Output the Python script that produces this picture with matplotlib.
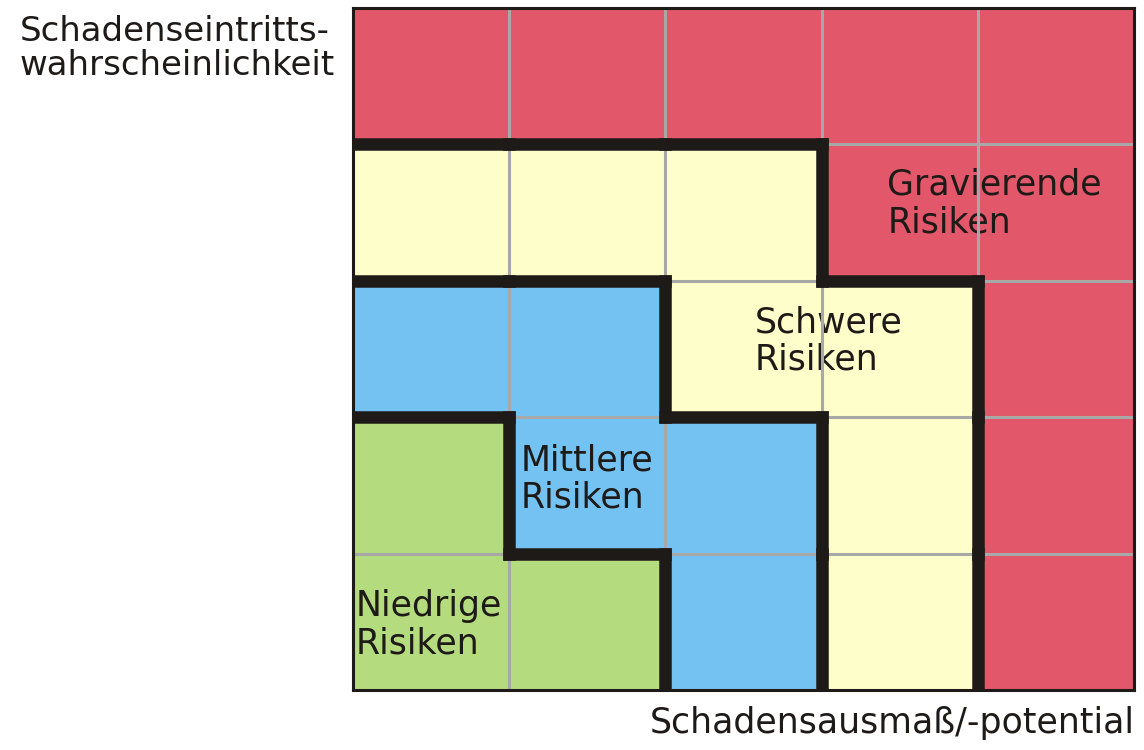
import numpy as np
import matplotlib.pyplot as plt
from matplotlib.colors import ListedColormap

plt.rcParams['font.family'] = ['DejaVu Sans']

# zone index for each cell, row 0 = bottom, col 0 = left
zones = np.array([
    [0, 0, 1, 2, 3],
    [0, 1, 1, 2, 3],
    [1, 1, 2, 2, 3],
    [2, 2, 2, 3, 3],
    [3, 3, 3, 3, 3],
])
zone_colors = ['#b5db7f', '#73c2f2', '#fefecb', '#e25769']
zone_labels = ['Niedrige\nRisiken', 'Mittlere\nRisiken', 'Schwere\nRisiken', 'Gravierende\nRisiken']
label_pos = [(0.02, 0.74), (1.07, 1.81), (2.57, 2.82), (3.42, 3.83)]  # top-left of each label
y_title = 'Schadenseintritts-\nwahrscheinlichkeit'
x_title = 'Schadensausmaß/-potential'

fig = plt.figure(figsize=(11.44, 7.5), dpi=100)
ax = fig.add_axes([353/1144, 60/750, 781/1144, 682/750])

n = zones.shape[0]
ax.pcolormesh(np.arange(n + 1), np.arange(n + 1), zones,
              cmap=ListedColormap(zone_colors), vmin=-0.5, vmax=3.5, zorder=0)

# grey grid (drawn over the labels, like the original)
for k in range(1, n):
    ax.axvline(k, color='#a8a8a8', lw=2.2, zorder=2)
    ax.axhline(k, color='#a8a8a8', lw=2.2, zorder=2)

# thick borders between zones
for r in range(n):
    for c in range(n):
        if c + 1 < n and zones[r, c] != zones[r, c + 1]:
            ax.plot([c + 1, c + 1], [r, r + 1], color='#1e1a18', lw=9,
                    solid_capstyle='projecting', zorder=3)
        if r + 1 < n and zones[r, c] != zones[r + 1, c]:
            ax.plot([c, c + 1], [r + 1, r + 1], color='#1e1a18', lw=9,
                    solid_capstyle='projecting', zorder=3)

for lab, (x, y) in zip(zone_labels, label_pos):
    ax.text(x, y, lab, fontsize=25, color='#1e1a18', ha='left', va='top',
            linespacing=1.13, zorder=1.5)

ax.set_xlim(0, n)
ax.set_ylim(0, n)
ax.set_xticks([])
ax.set_yticks([])
for s in ax.spines.values():
    s.set_linewidth(2.2)
    s.set_color('#1e1a18')
    s.set_zorder(4)

fig.text(20/1144, 1 - 15/750, y_title, fontsize=24.5, color='#1e1a18',
         ha='left', va='top', linespacing=1.05)
fig.text(1135/1144, 1 - 733/750, x_title, fontsize=25, color='#1e1a18',
         ha='right', va='baseline')

fig.savefig('out.png', dpi=100)
